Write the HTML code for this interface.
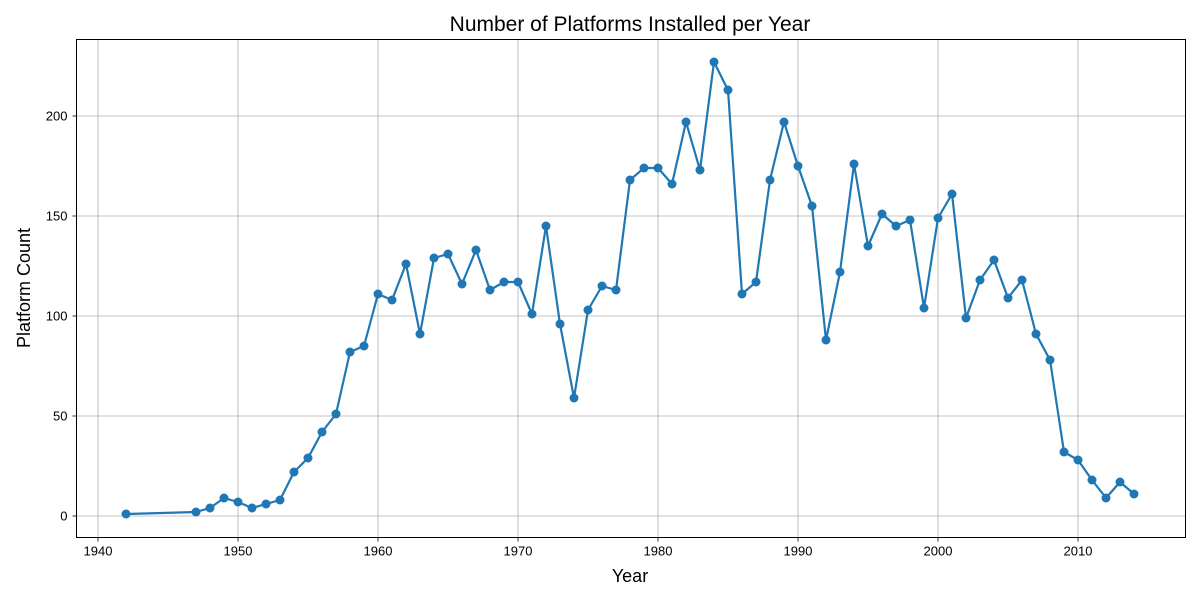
<!DOCTYPE html>
<html><head><meta charset="utf-8"><style>
html,body{margin:0;padding:0;background:#fff;}
svg{display:block;font-family:"Liberation Sans","DejaVu Sans",sans-serif;}
</style></head><body>
<svg id="chart" width="1200" height="600" viewBox="0 0 1200 600" xmlns="http://www.w3.org/2000/svg">
<rect x="0" y="0" width="1200" height="600" fill="#fff"/>
<g id="grid"></g>
<g id="series"></g>
<rect x="76.5" y="39.5" width="1109" height="498" fill="none" stroke="#000" stroke-width="1"/>
<g id="ticks"></g>
<text x="630" y="31" text-anchor="middle" font-size="21">Number of Platforms Installed per Year</text>
<text x="630" y="582" text-anchor="middle" font-size="18">Year</text>
<text transform="translate(30,288) rotate(-90)" text-anchor="middle" font-size="18">Platform Count</text>
</svg>
<script>
const years = [1942,1947,1948,1949,1950,1951,1952,1953,1954,1955,1956,1957,1958,1959,1960,1961,1962,1963,1964,1965,1966,1967,1968,1969,1970,1971,1972,1973,1974,1975,1976,1977,1978,1979,1980,1981,1982,1983,1984,1985,1986,1987,1988,1989,1990,1991,1992,1993,1994,1995,1996,1997,1998,1999,2000,2001,2002,2003,2004,2005,2006,2007,2008,2009,2010,2011,2012,2013,2014];
const counts = [1,2,4,9,7,4,6,8,22,29,42,51,82,85,111,108,126,91,129,131,116,133,113,117,117,101,145,96,59,103,115,113,168,174,174,166,197,173,227,213,111,117,168,197,175,155,88,122,176,135,151,145,148,104,149,161,99,118,128,109,118,91,78,32,28,18,9,17,11];
const xTicks = [1940,1950,1960,1970,1980,1990,2000,2010];
const yTicks = [0,50,100,150,200];

const NS = "http://www.w3.org/2000/svg";
const L = 76.5, R = 1185.5, T = 39.5, B = 537.5;
const x = v => 98 + (v - 1940) * 14;
const y = v => 516 - v * 2;
function mk(tag, attrs, parent) {
  const e = document.createElementNS(NS, tag);
  for (const k in attrs) e.setAttribute(k, attrs[k]);
  parent.appendChild(e);
  return e;
}
const grid = document.getElementById('grid');
const ticks = document.getElementById('ticks');
const series = document.getElementById('series');

xTicks.forEach(t => {
  const gl = mk('line', {x1: x(t), x2: x(t), y1: T, y2: B, stroke: '#b0b0b0', 'stroke-width': 0.8}, grid);
  
  
  const tk = mk('line', {x1: x(t), x2: x(t), y1: B, y2: B + 4, stroke: '#000', 'stroke-width': 0.8}, ticks);
  
  
  const tl = mk('text', {x: x(t), y: B + 18, 'text-anchor': 'middle', 'font-size': 13}, ticks);
  
  
  tl.textContent = t;
});
yTicks.forEach(t => {
  const gl = mk('line', {x1: L, x2: R, y1: y(t), y2: y(t), stroke: '#b0b0b0', 'stroke-width': 0.8}, grid);
  
  
  const tk = mk('line', {x1: L - 4, x2: L, y1: y(t), y2: y(t), stroke: '#000', 'stroke-width': 0.8}, ticks);
  
  
  const tl = mk('text', {x: L - 9, y: y(t) + 4.5, 'text-anchor': 'end', 'font-size': 13}, ticks);
  
  
  tl.textContent = t;
});

const pts = years.map((yr, i) => x(yr) + ',' + y(counts[i])).join(' ');
const line = mk('polyline', {points: pts, fill: 'none', stroke: '#1f77b4', 'stroke-width': 2.2, 'stroke-linejoin': 'round'}, series);


years.forEach((yr, i) => {
  const c = mk('circle', {cx: x(yr), cy: y(counts[i]), r: 4.5, fill: '#1f77b4'}, series);
  
  
});
</script>
</body></html>
